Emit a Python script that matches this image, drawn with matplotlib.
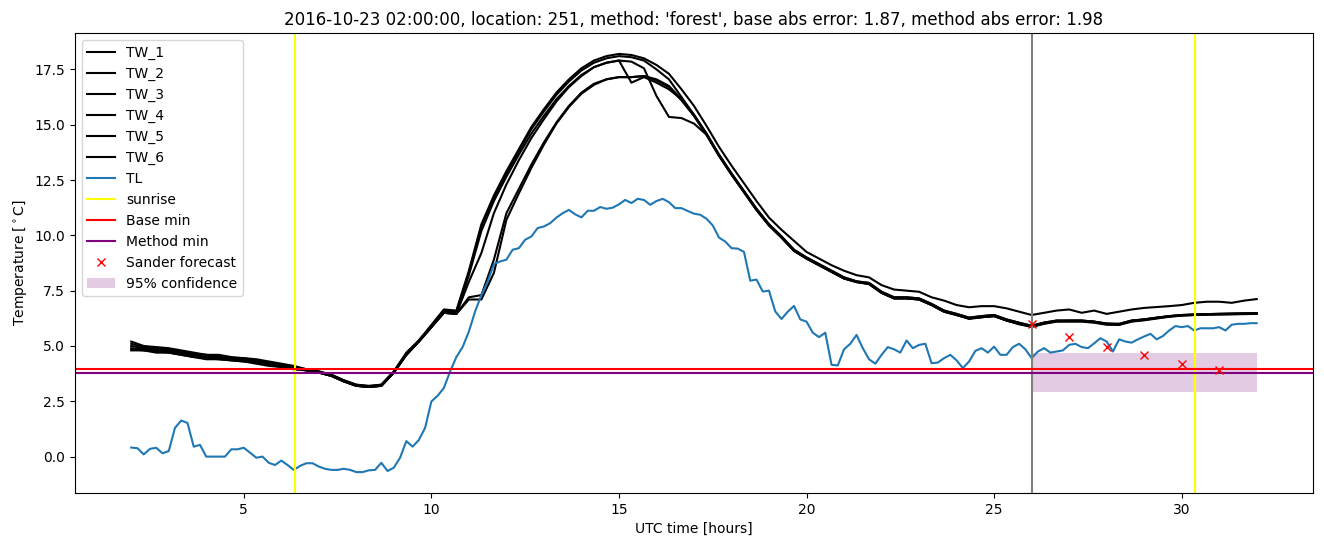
import numpy as np
import matplotlib
matplotlib.use('Agg')
import matplotlib.pyplot as plt

# 2016-10-23 02:00 UTC onwards; TW read every 20 min, TL every 10 min
t_start = 2.0
tw_step = 1.0 / 3.0
tl_step = 1.0 / 6.0

tw_1 = [5.2, 5.0, 4.95, 4.9, 4.8, 4.7, 4.6, 4.6, 4.5, 4.45, 4.4, 4.3, 4.2, 4.1, 3.95, 3.85, 3.7, 3.45, 3.25, 3.2,
        3.25, 3.85, 4.7, 5.25, 5.95, 6.65, 6.6,
        8.4, 10.5, 11.8, 12.9, 13.9, 14.9, 15.7, 16.45, 17.05, 17.55, 17.9, 18.1, 18.2, 18.15, 18.0,
        17.7, 17.3, 16.6, 15.85, 14.95, 14.0, 13.15, 12.35, 11.55, 10.8, 10.25, 9.75, 9.25, 8.95, 8.65, 8.4,
        8.2, 8.1, 7.75, 7.55, 7.5, 7.45, 7.2, 7.05, 6.85, 6.75, 6.8, 6.8, 6.7, 6.55,
        6.4, 6.5, 6.6, 6.65, 6.5, 6.6, 6.45, 6.55, 6.65, 6.72, 6.76, 6.8, 6.85, 6.95, 7.0, 7.0, 6.95, 7.05, 7.12]
tw_2 = [5.1, 4.95, 4.9, 4.85, 4.75, 4.65, 4.6, 4.55, 4.45, 4.45, 4.35, 4.25, 4.15, 4.05, 3.95, 3.85, 3.7, 3.45,
        3.25, 3.18, 3.25, 3.85, 4.65, 5.25, 5.9, 6.6, 6.55,
        8.3, 10.4, 11.7, 12.8, 13.8, 14.8, 15.6, 16.35, 16.95, 17.45, 17.8, 18.0, 18.1, 18.05, 17.9,
        17.5, 17.05, 16.25, 15.45, 14.6, 13.65, 12.8, 12.0, 11.2, 10.5, 9.95, 9.35, 9.0, 8.7, 8.4, 8.1,
        7.92, 7.85, 7.45, 7.2, 7.2, 7.15, 6.9, 6.6, 6.45, 6.28, 6.35, 6.4, 6.2, 6.05,
        5.9, 6.05, 6.15, 6.15, 6.15, 6.1, 6.0, 6.0, 6.15, 6.2, 6.28, 6.35, 6.4, 6.42, 6.44, 6.45, 6.46, 6.47, 6.48]
tw_3 = [5.0, 4.9, 4.85, 4.8, 4.7, 4.6, 4.5, 4.5, 4.4, 4.4, 4.3, 4.2, 4.1, 4.0, 3.9, 3.8, 3.65, 3.4, 3.2, 3.15,
        3.2, 3.8, 4.6, 5.2, 5.85, 6.55, 6.5,
        8.2, 10.2, 11.55, 12.65, 13.65, 14.6, 15.4, 16.15, 16.75, 17.25, 17.6, 17.8, 17.9, 16.9, 17.15,
        16.9, 16.6, 16.15, 15.4, 14.55, 13.6, 12.75, 11.95, 11.15, 10.45, 9.9, 9.3, 8.95, 8.65, 8.35, 8.05,
        7.9, 7.8, 7.4, 7.15, 7.15, 7.1, 6.85, 6.55, 6.4, 6.25, 6.3, 6.35, 6.15, 6.0,
        5.88, 6.02, 6.12, 6.12, 6.12, 6.08, 5.98, 5.97, 6.12, 6.18, 6.26, 6.33, 6.38, 6.4, 6.42, 6.43, 6.44, 6.45, 6.46]
tw_4 = [4.9, 4.85, 4.8, 4.75, 4.65, 4.55, 4.5, 4.45, 4.4, 4.35, 4.3, 4.2, 4.1, 4.0, 3.9, 3.8, 3.65, 3.4, 3.2, 3.15,
        3.2, 3.8, 4.6, 5.2, 5.85, 6.5, 6.45,
        7.9, 9.2, 11.0, 12.3, 13.4, 14.4, 15.25, 16.05, 16.7, 17.2, 17.6, 17.8, 17.9, 17.85, 17.55,
        16.3, 15.35, 15.3, 15.05, 14.55, 13.6, 12.75, 11.95, 11.15, 10.45, 9.9, 9.3, 8.95, 8.65, 8.35, 8.05,
        7.88, 7.8, 7.4, 7.15, 7.15, 7.1, 6.85, 6.55, 6.4, 6.22, 6.3, 6.35, 6.15, 5.98,
        5.86, 6.0, 6.1, 6.1, 6.1, 6.05, 5.96, 5.95, 6.1, 6.16, 6.24, 6.32, 6.37, 6.4, 6.41, 6.42, 6.43, 6.44, 6.45]
tw_5 = [4.85, 4.8, 4.75, 4.7, 4.6, 4.5, 4.45, 4.4, 4.35, 4.3, 4.25, 4.15, 4.05, 3.95, 3.9, 3.8, 3.65, 3.4, 3.2,
        3.15, 3.2, 3.8, 4.6, 5.2, 5.85, 6.5, 6.45,
        7.2, 7.3, 8.9, 11.0, 12.1, 13.2, 14.2, 15.1, 15.85, 16.45, 16.85, 17.05, 17.15, 17.15, 17.2,
        17.0, 16.7, 16.1, 15.4, 14.55, 13.6, 12.75, 11.95, 11.15, 10.45, 9.9, 9.3, 8.95, 8.65, 8.35, 8.05,
        7.9, 7.8, 7.4, 7.15, 7.15, 7.1, 6.85, 6.55, 6.4, 6.25, 6.3, 6.35, 6.15, 6.0,
        5.9, 6.05, 6.12, 6.14, 6.14, 6.1, 6.0, 5.98, 6.13, 6.2, 6.27, 6.34, 6.39, 6.42, 6.44, 6.45, 6.46, 6.47, 6.48]
tw_6 = [4.8, 4.8, 4.7, 4.7, 4.6, 4.5, 4.4, 4.4, 4.35, 4.3, 4.2, 4.1, 4.05, 3.95, 3.9, 3.8, 3.65, 3.4, 3.2, 3.15,
        3.2, 3.8, 4.6, 5.2, 5.85, 6.5, 6.45,
        7.1, 7.1, 8.3, 10.7, 11.9, 13.05, 14.1, 15.05, 15.8, 16.4, 16.8, 17.05, 17.15, 17.15, 17.2,
        17.05, 16.75, 16.15, 15.45, 14.6, 13.65, 12.8, 12.0, 11.2, 10.5, 9.95, 9.35, 9.0, 8.7, 8.4, 8.1,
        7.92, 7.85, 7.45, 7.2, 7.2, 7.15, 6.9, 6.6, 6.45, 6.28, 6.35, 6.4, 6.2, 6.05,
        5.92, 6.06, 6.15, 6.15, 6.15, 6.1, 6.02, 6.0, 6.15, 6.2, 6.28, 6.35, 6.4, 6.42, 6.44, 6.45, 6.46, 6.47, 6.48]
tl = [0.41, 0.38, 0.10, 0.35, 0.40, 0.15, 0.25, 1.30, 1.63, 1.52, 0.45, 0.53,
      0.00, 0.00, 0.00, 0.00, 0.33, 0.33, 0.40, 0.18, -0.05, 0.00, -0.28, -0.38,
      -0.18, -0.38, -0.60, -0.42, -0.30, -0.30, -0.45, -0.55, -0.60, -0.60, -0.55, -0.60,
      -0.70, -0.70, -0.62, -0.60, -0.28, -0.65, -0.50, -0.05, 0.70, 0.45, 0.75, 1.30,
      2.49, 2.75, 3.10, 3.85, 4.50, 4.95, 5.65, 6.56, 7.30, 7.90, 8.70, 8.82,
      8.90, 9.35, 9.42, 9.80, 9.95, 10.33, 10.40, 10.55, 10.80, 11.00, 11.15, 10.95,
      10.81, 11.11, 11.11, 11.28, 11.20, 11.25, 11.40, 11.60, 11.46, 11.65, 11.60, 11.38,
      11.55, 11.65, 11.50, 11.23, 11.23, 11.10, 10.98, 10.93, 10.75, 10.45, 9.90, 9.72,
      9.42, 9.40, 9.25, 7.95, 8.00, 7.46, 7.50, 6.56, 6.22, 6.55, 6.81, 6.20,
      6.10, 5.60, 5.40, 5.60, 4.15, 4.12, 4.85, 5.10, 5.50, 4.90, 4.40, 4.20,
      4.60, 4.95, 4.85, 4.70, 5.25, 4.90, 5.05, 5.10, 4.22, 4.25, 4.45, 4.60,
      4.35, 4.00, 4.30, 4.78, 4.90, 4.70, 4.97, 4.60, 4.60, 4.95, 5.10, 4.85,
      4.45, 4.75, 4.90, 4.70, 4.75, 4.80, 5.05, 5.10, 4.95, 4.90, 5.12, 5.35,
      5.20, 4.75, 5.30, 5.20, 5.15, 5.30, 5.43, 5.55, 5.30, 5.45, 5.70, 5.90,
      5.85, 5.90, 5.70, 5.80, 5.80, 5.80, 5.85, 5.70, 5.96, 6.00, 6.00, 6.03,
      6.03]

sunrise = [6.36, 30.35]
forecast_time = 26.0
base_min = 3.98
method_min = 3.80
method_halfwidth = 0.88
sander_hours = [26, 27, 28, 29, 30, 31]
sander_values = [6.00, 5.41, 4.96, 4.60, 4.19, 3.92]

tw_all = [tw_1, tw_2, tw_3, tw_4, tw_5, tw_6]
t_tw = t_start + np.arange(len(tw_1)) * tw_step
t_tl = t_start + np.arange(len(tl)) * tl_step

fig, ax = plt.subplots(figsize=(13.24, 5.47), dpi=100)
fig.subplots_adjust(left=0.0566, right=0.9917, top=0.9397, bottom=0.0987)

for i, tw in enumerate(tw_all):
    ax.plot(t_tw, tw, color='black', label='TW_' + str(i + 1))
ax.plot(t_tl, tl, color='C0', label='TL')

ax.axvline(sunrise[0], color='yellow', label='sunrise')
ax.axvline(sunrise[1], color='yellow')
ax.axvline(forecast_time, color='grey')
ax.axhline(base_min, color='red', label='Base min')
ax.axhline(method_min, color='purple', label='Method min')
ax.plot(sander_hours, sander_values, 'rx', label='Sander forecast')
ax.fill_between([forecast_time, t_tl[-1]], method_min - method_halfwidth, method_min + method_halfwidth,
                color='purple', alpha=0.2, linewidth=0, label='95% confidence')

ax.legend(loc='upper left')
ax.set_xlabel('UTC time [hours]')
ax.set_ylabel(r'Temperature [$^\circ$C]')
ax.set_title("2016-10-23 02:00:00, location: 251, method: 'forest', base abs error: 1.87, method abs error: 1.98")

plt.savefig('out.png')
